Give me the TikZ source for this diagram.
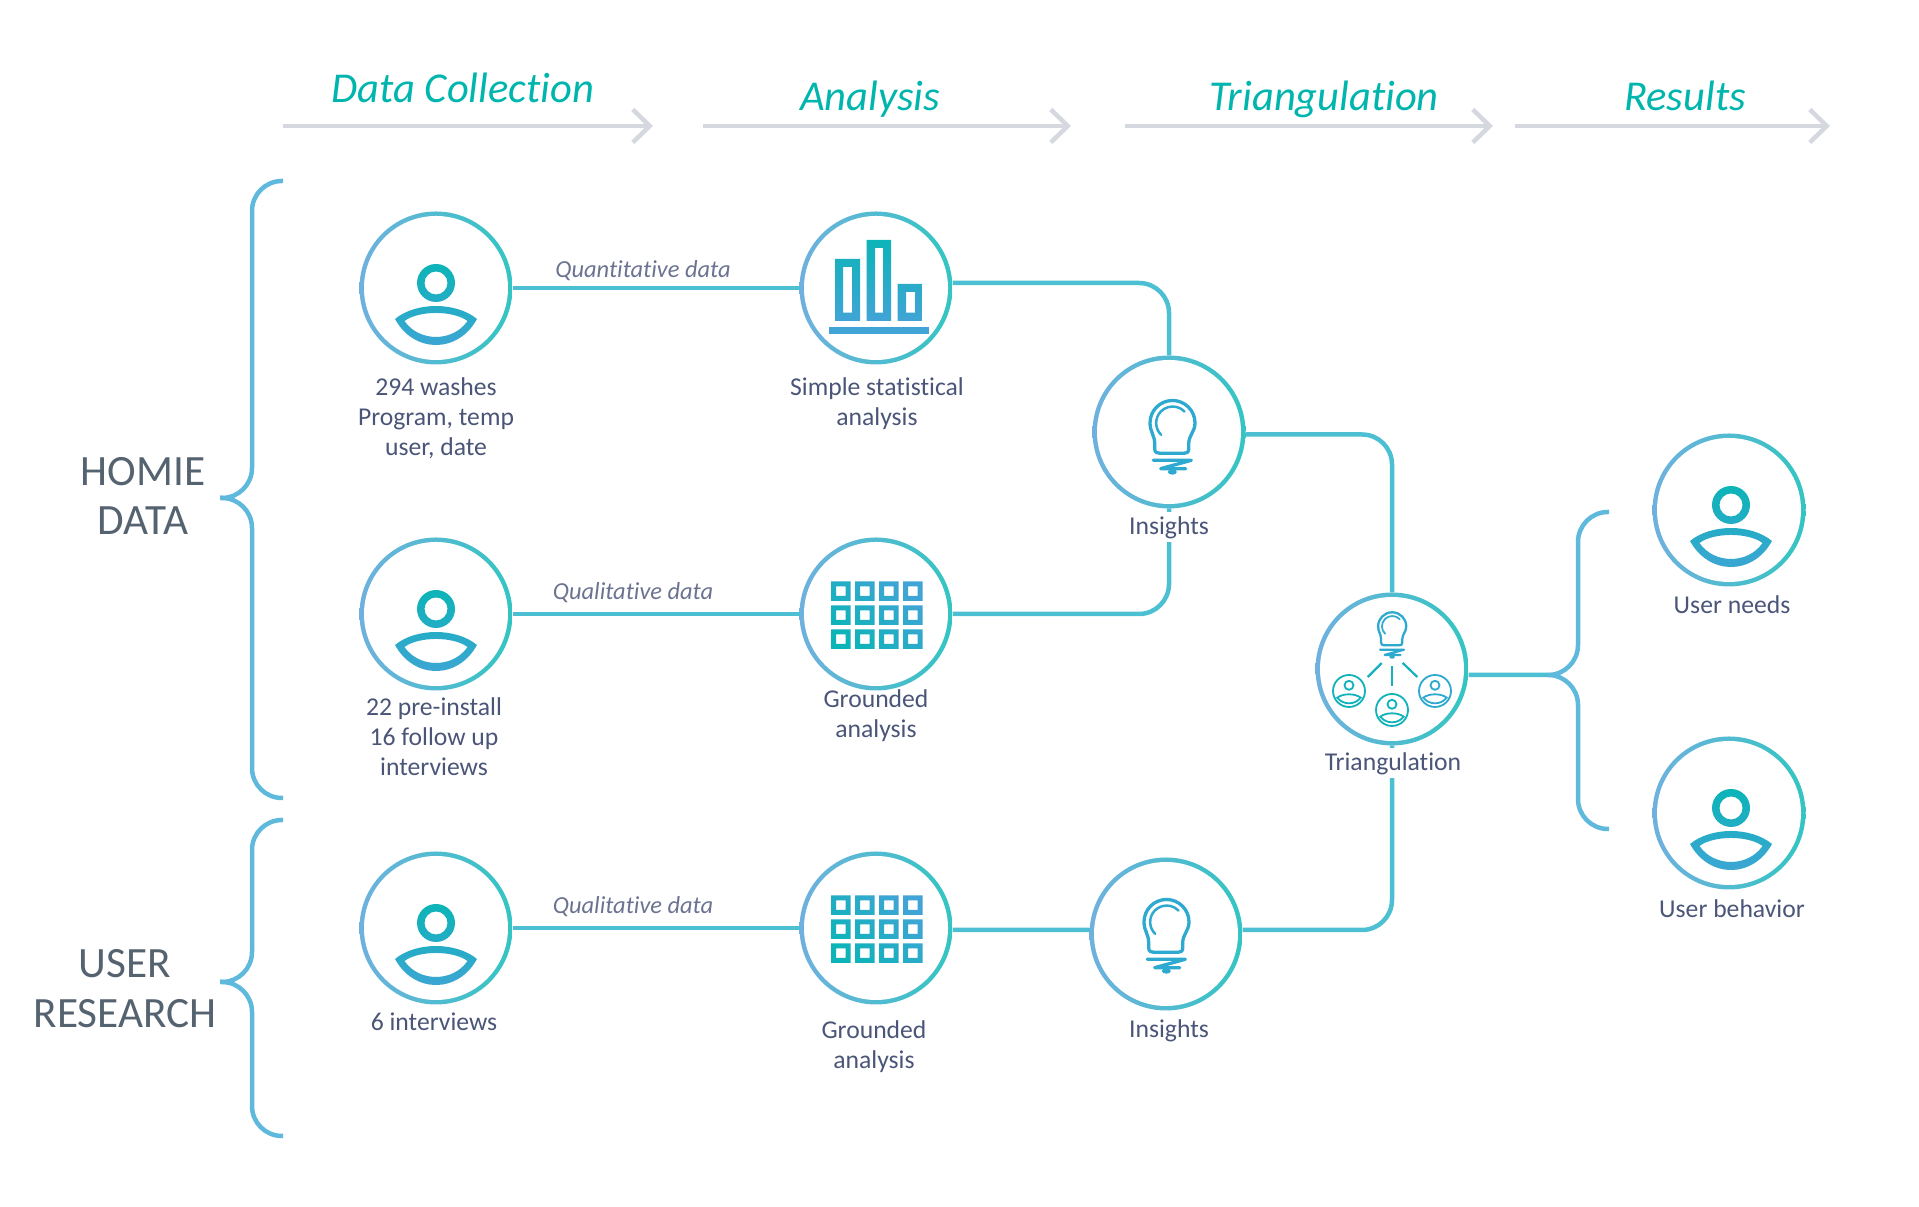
\documentclass[tikz,border=0pt]{standalone}
\usepackage{fontspec}
\setmainfont[Ligatures=NoCommon]{Carlito}
\usetikzlibrary{arrows.meta}

\definecolor{ringl}{HTML}{6FB1DE}
\definecolor{ringr}{HTML}{33C5C2}
\definecolor{linkc}{HTML}{4CBFD2}
\definecolor{bracec}{HTML}{5EB9DC}
\definecolor{flowc}{HTML}{D6D8DF}
\definecolor{headc}{HTML}{00B5AD}
\definecolor{groupc}{HTML}{55626F}
\definecolor{labelc}{HTML}{4A5578}
\definecolor{edgec}{HTML}{6B7391}
\definecolor{icontop}{HTML}{0CB4B8}
\definecolor{iconbot}{HTML}{41A4D6}
\definecolor{bulbc}{HTML}{2EA9CF}

\tikzset{
  ring/.style={circle, minimum size=1.53cm, inner sep=0pt, outer sep=0pt,
    path picture={
      \shade[left color=ringl, right color=ringr] (path picture bounding box.south west) rectangle (path picture bounding box.north east);
      \fill[white] (path picture bounding box.center) circle (.72cm);
    }},
  link/.style={draw=linkc, line width=.045cm},
  elbow/.style={link, rounded corners=.3cm},
  bracket/.style={draw=bracec, line width=.045cm, rounded corners=.3cm},
  flow/.style={draw=flowc, line width=.045cm, -{Straight Barb[length=.17cm, width=.33cm, line width=.045cm]}},
  head/.style={text=headc, font=\fontsize{12.1}{14}\selectfont\itshape, inner sep=0pt},
  group/.style={text=groupc, align=center, font=\fontsize{12.3}{14.2}\selectfont, inner sep=0pt},
  lab/.style={text=labelc, align=center, font=\fontsize{7.3}{8.54}\selectfont, inner sep=0pt},
  gaplab/.style={lab, fill=white, minimum height=.3cm},
  edgelab/.style={text=edgec, font=\fontsize{6.95}{8.5}\selectfont\itshape, inner sep=0pt},
  pics/person/.style={code={
    \shade[even odd rule, top color=icontop, bottom color=iconbot]
      (0,.05) circle (.19) (0,.05) circle (.115)
      (-.41,-.31) .. controls (-.2,-.137) and (.2,-.137) .. (.41,-.31) .. controls (.22,-.657) and (-.22,-.657) .. cycle
      (-.315,-.33) .. controls (-.17,-.223) and (.17,-.223) .. (.315,-.33) .. controls (.17,-.543) and (-.17,-.543) .. cycle;
  }},
  pics/bars/.style={code={
    \shade[even odd rule, top color=icontop, bottom color=iconbot]
      (-.41,-.33) rectangle (-.16,.29) (-.33,-.247) rectangle (-.24,.21)
      (-.095,-.33) rectangle (.15,.48) (-.01,-.247) rectangle (.07,.40)
      (.215,-.33) rectangle (.46,.04) (.30,-.247) rectangle (.39,-.04);
    \fill[iconbot] (-.474,-.457) rectangle (.526,-.39);
  }},
  pics/cells/.style={code={
    \shade[even odd rule, bottom color=icontop, top color=iconbot, shading angle=-45]
      foreach \i in {0,1,2,3} { foreach \j in {0,1,2} {
        (-.45+.24*\i,-.35+.24*\j) rectangle ++(.197,.197)
        (-.40+.24*\i,-.30+.24*\j) rectangle ++(.097,.097)
      }};
  }},
  pics/bulb/.style={code={
    \draw[bulbc, line width=#1, line join=round]
      (-.19,.09) arc (180:0:.225) .. controls (.26,0) and (.197,-.03) .. (.197,-.12)
      -- (.197,-.17) .. controls (.197,-.205) and (.175,-.213) .. (.15,-.213)
      -- (-.09,-.213) .. controls (-.12,-.213) and (-.143,-.205) .. (-.143,-.17)
      -- (-.143,-.12) .. controls (-.143,-.03) and (-.19,0) .. cycle;
    \draw[bulbc, line width=#1*.75, line cap=round] (-.078,-.029) arc (226:44:.165);
    \draw[bulbc, line width=#1, line cap=round, line join=round]
      (-.157,-.283) -- (.223,-.283) -- (-.083,-.367) -- (.167,-.367);
    \fill[bulbc] (.033,-.40) ellipse (.045 and .027);
  }},
  pics/minip/.style={code={
    \draw[#1, line width=.018cm] (0,0) circle (.16) (0,.057) circle (.045)
      (-.117,-.067) .. controls (-.06,-.022) and (.06,-.022) .. (.117,-.067) .. controls (.06,-.142) and (-.06,-.142) .. cycle;
  }},
}

\begin{document}
\begin{tikzpicture}
\useasboundingbox (0,0) rectangle (19.19,12.07);

% Stage headers with their arrows
\foreach \nm/\from/\to in {dc/2.83/6.53, an/7.03/10.71, tr/11.25/14.93, rs/15.15/18.30} {
  \coordinate (\nm s) at (\from,10.81);
  \coordinate (\nm e) at (\to,10.81);
  \draw[flow] (\nm s) -- (\nm e);
}
\node[head] (hdc) at (4.63,11.19) {Data Collection};
\node[head] (han) at (8.70,11.08) {Analysis};
\node[head] (htr) at (13.24,11.08) {Triangulation};
\node[head] (hrs) at (16.85,11.11) {Results};

% Circles
\node[ring] (u1) at (4.36,9.19) {};
\node[ring] (stat) at (8.76,9.19) {};
\node[ring] (ins1) at (11.69,7.75) {};
\node[ring] (u2) at (4.36,5.93) {};
\node[ring] (grd1) at (8.76,5.93) {};
\node[ring] (u3) at (4.36,2.79) {};
\node[ring] (grd2) at (8.76,2.79) {};
\node[ring] (ins2) at (11.66,2.73) {};
\node[ring] (tri) at (13.92,5.38) {};
\node[ring] (need) at (17.29,6.97) {};
\node[ring] (behav) at (17.29,3.94) {};

% Connectors
\draw[link] (u1) -- (stat);
\draw[link] (u2) -- (grd1);
\draw[link] (u3) -- (grd2);
\draw[link] ([yshift=-.02cm]grd2.east) -- ([yshift=.04cm]ins2.west);
\draw[elbow] ([yshift=.05cm]stat.east) -| (ins1.north);
\draw[elbow] (grd1.east) -| (ins1.south);
\draw[elbow] ([yshift=-.025cm]ins1.east) -| (tri.north);
\draw[elbow] ([yshift=.04cm]ins2.east) -| (tri.south);

% Brackets
\foreach \hi/\tip/\lo in {10.26/7.09/4.09, 3.87/2.25/.71} {
  \draw[bracket] (2.83,\hi) -- (2.52,\hi) -- (2.52,\tip) -- (2.20,\tip);
  \draw[bracket] (2.83,\lo) -- (2.52,\lo) -- (2.52,\tip) -- (2.20,\tip);
}
\coordinate (split) at (15.48,5.32);
\draw[link] ([yshift=-.06cm]tri.east) -- (split);
\draw[bracket] (16.09,6.95) -- (15.78,6.95) -- (15.78,5.32) -- (split);
\draw[bracket] (16.09,3.78) -- (15.78,3.78) -- (15.78,5.32) -- (split);

% Icons
\pic at (u1.center) {person};
\pic at (u2.center) {person};
\pic at (u3.center) {person};
\pic at ([xshift=.02cm]need.center) {person};
\pic at ([xshift=.02cm]behav.center) {person};
\pic at (stat.center) {bars};
\pic at (grd1.center) {cells};
\pic at (grd2.center) {cells};
\pic at (ins1.center) {bulb=.033cm};
\pic at ([xshift=-.03cm,yshift=.03cm]ins2.center) {bulb=.033cm};
\begin{scope}[shift={(tri.center)}]
  \pic[scale=.625] at (-.02,.37) {bulb=.023cm};
  \pic at (-.43,-.22) {minip=icontop!85!bulbc};
  \pic at (0,-.41) {minip=icontop!85!bulbc};
  \pic at (.43,-.22) {minip=bulbc};
  \draw[icontop!70!bulbc, line width=.022cm] (-.103,.06) -- (-.243,-.08);
  \draw[icontop!70!bulbc, line width=.022cm] (0,.027) -- (0,-.167);
  \draw[icontop!70!bulbc, line width=.022cm] (.107,.06) -- (.253,-.08);
\end{scope}

% Labels
\node[lab] (lu1) at (4.36,7.89) {294 washes\\Program, temp\\user, date};
\node[lab] (lstat) at (8.77,8.035) {Simple statistical\\analysis};
\node[gaplab] (lins1) at (11.69,6.795) {Insights};
\node[lab] (lu2) at (4.34,4.70) {22 pre-install\\16 follow up\\interviews};
\node[lab] (lgrd1) at (8.76,4.91) {Grounded\\analysis};
\node[gaplab] (ltri) at (13.93,4.435) {Triangulation};
\node[lab] (lneed) at (17.32,6.02) {User needs};
\node[lab] (lbehav) at (17.32,2.98) {User behavior};
\node[lab] (lu3) at (4.34,1.85) {6 interviews};
\node[lab] (lgrd2) at (8.74,1.605) {Grounded\\analysis};
\node[lab] (lins2) at (11.69,1.765) {Insights};

\node[edgelab] (eq1) at (6.43,9.36) {Quantitative data};
\node[edgelab] (eq2) at (6.33,6.14) {Qualitative data};
\node[edgelab] (eq3) at (6.33,3.00) {Qualitative data};

\node[group] (ghomie) at (1.43,7.11) {HOMIE\\DATA};
\node[group] (guser) at (1.25,2.18) {USER\\RESEARCH};
\end{tikzpicture}
\end{document}
